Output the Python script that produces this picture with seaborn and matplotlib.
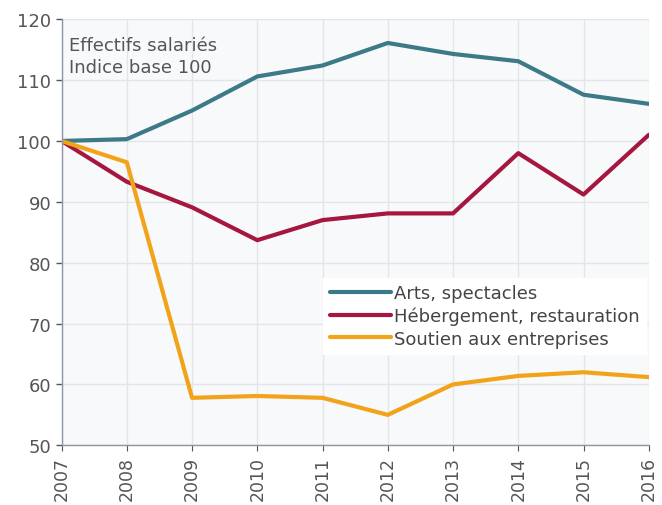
import matplotlib
matplotlib.use("Agg")
import matplotlib.pyplot as plt
import seaborn as sns
import pandas as pd

years = [2007, 2008, 2009, 2010, 2011, 2012, 2013, 2014, 2015, 2016]
arts = [100, 100.3, 105, 110.6, 112.4, 116.1, 114.3, 113.1, 107.6, 106.1]
heberg = [100, 93.3, 89.1, 83.7, 87.0, 88.1, 88.1, 98.0, 91.2, 101.0]
soutien = [100, 96.5, 57.8, 58.1, 57.8, 55.0, 60.0, 61.4, 62.0, 61.2]
series_names = ["Arts, spectacles", "Hébergement, restauration", "Soutien aux entreprises"]
colors = ["#3c7a88", "#a5173f", "#f2a31a"]

df = pd.DataFrame({"year": years * 3,
                   "value": arts + heberg + soutien,
                   "serie": sum([[n] * len(years) for n in series_names], [])})

sns.set_style("whitegrid")
plt.rcParams['font.family'] = ['DejaVu Sans']
fig, ax = plt.subplots(figsize=(6.62, 5.06), dpi=100)
fig.subplots_adjust(left=0.093, right=0.98, top=0.96, bottom=0.118)
ax.set_facecolor("#f8f9fa")

sns.lineplot(data=df, x="year", y="value", hue="serie", palette=colors,
             linewidth=3, ax=ax)

ax.set_xlim(2007, 2016)
ax.set_ylim(50, 120)
ax.set_xticks(years)
ax.set_xticklabels([str(y) for y in years], rotation=90, fontsize=12.5, color="#555555")
ax.set_yticks(range(50, 121, 10))
ax.tick_params(axis="y", labelsize=13, colors="#555555", length=4, left=True, width=1)
ax.tick_params(axis="x", length=4, bottom=True, colors="#555555")
ax.set_xlabel("")
ax.set_ylabel("")
ax.grid(color="#e3e5e8", linewidth=1)
for s in ["top", "right"]:
    ax.spines[s].set_visible(False)
for s in ["left", "bottom"]:
    ax.spines[s].set_color("#8a96a3")
    ax.spines[s].set_linewidth(1)

ax.text(0.012, 0.96, "Effectifs salariés\nIndice base 100", transform=ax.transAxes,
        ha="left", va="top", fontsize=13, color="#555555", linespacing=1.3)

leg = ax.legend(title=None, loc="lower right", bbox_to_anchor=(0.995, 0.214),
                frameon=True, fontsize=13, handlelength=3.4, handletextpad=0.15,
                borderaxespad=0.0, labelspacing=0.25, borderpad=0.35)
leg.get_frame().set_facecolor("white")
leg.get_frame().set_edgecolor("white")
leg.get_frame().set_alpha(1)
leg.get_frame().set_boxstyle("square", pad=0)
for t in leg.get_texts():
    t.set_color("#444444")

fig.savefig("out.png", dpi=100)
